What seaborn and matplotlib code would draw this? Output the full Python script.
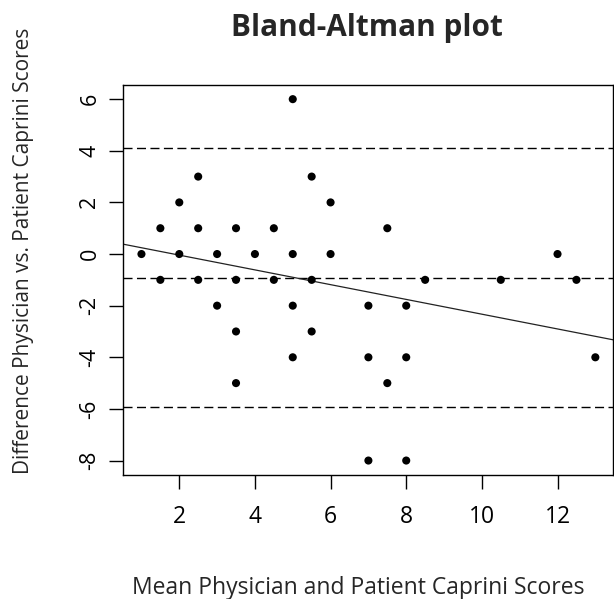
import matplotlib
matplotlib.use("Agg")
import matplotlib.pyplot as plt
import seaborn as sns
import pandas as pd

mean_scores = [5,
               2.5, 5.5,
               2, 6,
               1.5, 2.5, 3.5, 4.5, 7.5,
               1, 2, 3, 4, 5, 6, 12,
               1.5, 2.5, 3.5, 4.5, 5.5, 8.5, 10.5, 12.5,
               3, 5, 7, 8,
               3.5, 5.5,
               5, 7, 8, 13,
               3.5, 7.5,
               7, 8]
diff_scores = [6,
               3, 3,
               2, 2,
               1, 1, 1, 1, 1,
               0, 0, 0, 0, 0, 0, 0,
               -1, -1, -1, -1, -1, -1, -1, -1,
               -2, -2, -2, -2,
               -3, -3,
               -4, -4, -4, -4,
               -5, -5,
               -8, -8]

mean_diff = -0.93
upper_loa = 4.10
lower_loa = -5.94
reg_intercept = 0.53
reg_slope = -0.286

x_ticks = [2, 4, 6, 8, 10, 12]
y_ticks = [-8, -6, -4, -2, 0, 2, 4, 6]

title = "Bland-Altman plot"
x_label = "Mean Physician and Patient Caprini Scores"
y_label = "Difference Physician vs. Patient Caprini Scores"

df = pd.DataFrame({"mean": mean_scores, "diff": diff_scores})

sns.set_style("white")
plt.rcParams["font.family"] = ["Open Sans", "DejaVu Sans"]

W, H = 614, 599
fig = plt.figure(figsize=(W / 100, H / 100), dpi=100)
ax = fig.add_axes([123.3 / W, 1 - 475 / H, (613.5 - 123.3) / W, (475 - 84.7) / H])

sns.scatterplot(data=df, x="mean", y="diff", ax=ax, color="black",
                s=34, edgecolor="none", linewidth=0, zorder=3)

for yv in (upper_loa, mean_diff, lower_loa):
    ax.axhline(yv, color="black", lw=1.0, ls=(0, (6.5, 3.2)), zorder=2)
ax.axline((0, reg_intercept), slope=reg_slope, color="#222222", lw=0.9, zorder=2)

ax.set_xlim(0.52, 13.48)
ax.set_ylim(-8.56, 6.56)
ax.set_xticks(x_ticks)
ax.set_yticks(y_ticks)
ax.set_xticklabels([str(t) for t in x_ticks], fontsize=16.5)
ax.set_yticklabels([str(t) for t in y_ticks], fontsize=15.5, rotation=90, va="center")
ax.tick_params(axis="both", direction="out", length=10, width=1.0, color="black",
               labelcolor="black", bottom=True, left=True)
ax.tick_params(axis="x", pad=11.5)
ax.tick_params(axis="y", pad=6.5)
for sp in ax.spines.values():
    sp.set_visible(True)
    sp.set_color("black")
    sp.set_linewidth(1.0)
ax.set_xlabel("")
ax.set_ylabel("")

fig.text(367 / W, 1 - 36 / H, title, ha="center", va="baseline",
         fontsize=21.4, fontweight="bold")
fig.text(358 / W, 1 - 594 / H, x_label, ha="center", va="baseline", fontsize=16.5)
fig.text(24 / W, 1 - 251 / H, y_label, ha="center", va="center", rotation=90,
         fontsize=15)

fig.savefig("out.png", dpi=100, facecolor="white")
